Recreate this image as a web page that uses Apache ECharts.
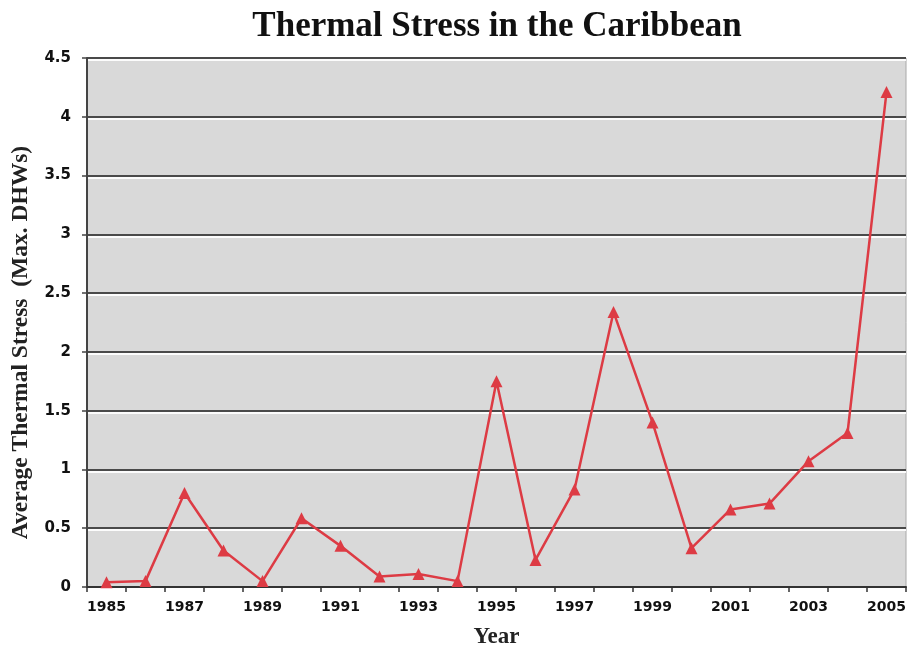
<!DOCTYPE html>
<html>
<head>
<meta charset="utf-8">
<script src="https://cdn.jsdelivr.net/npm/echarts@6/dist/echarts.min.js"></script>
<style>html,body{margin:0;padding:0;background:#fff}#c{width:909px;height:650px}</style>
</head>
<body>
<div id="c"></div>
<script>
const years = ['1985','1986','1987','1988','1989','1990','1991','1992','1993','1994','1995','1996','1997','1998','1999','2000','2001','2002','2003','2004','2005'];
const thermalStress = [0.04,0.05,0.80,0.31,0.05,0.585,0.35,0.09,0.11,0.05,1.75,0.23,0.83,2.34,1.40,0.33,0.66,0.71,1.07,1.31,4.21];
const titleText = 'Thermal Stress in the Caribbean';
const yName = 'Average Thermal Stress  (Max. DHWs)';
const xName = 'Year';

const chart = echarts.init(document.getElementById('c'), null, {renderer:'canvas'});
chart.setOption({
  backgroundColor:'#fff',
  animation:false,
  title:{text:titleText,left:492,top:4,textAlign:'center',
    textStyle:{fontFamily:'Liberation Serif',fontWeight:'bold',fontSize:35,color:'#111'}},
  grid:{left:87,right:3,top:58,bottom:63,containLabel:false,outerBoundsMode:'none',show:true,backgroundColor:'#d9d9d9',borderColor:'#a8a8a8',borderWidth:1},
  xAxis:{type:'category',data:years,boundaryGap:true,
    name:xName,nameLocation:'middle',nameGap:39,
    nameTextStyle:{fontFamily:'Liberation Serif',fontWeight:'bold',fontSize:23,color:'#222'},
    axisLine:{lineStyle:{color:'#333',width:2}},
    axisTick:{show:true,interval:0,length:5,lineStyle:{color:'#333',width:1.5}},
    axisLabel:{interval:1,margin:13,fontFamily:'DejaVu Sans',fontWeight:'bold',fontSize:14,color:'#111'},
    splitLine:{show:false}},
  yAxis:{type:'value',min:0,max:4.5,interval:0.5,
    name:yName,nameLocation:'middle',nameGap:54,
    nameTextStyle:{fontFamily:'Liberation Serif',fontWeight:'bold',fontSize:23.5,color:'#222',padding:[0,40,0,0]},
    axisLine:{show:true,lineStyle:{color:'#444',width:2}},
    axisTick:{show:true,length:5,lineStyle:{color:'#444',width:1.5}},
    axisLabel:{margin:16,fontFamily:'DejaVu Sans',fontWeight:'bold',fontSize:15,color:'#111'},
    splitLine:{show:true,lineStyle:{color:'#4a4a4a',width:2,shadowColor:'rgba(255,255,255,0.9)',shadowOffsetY:2,shadowBlur:0}}},
  series:[{type:'line',data:thermalStress,symbol:'triangle',symbolSize:12,
    lineStyle:{color:'#dd3b44',width:2.5},
    itemStyle:{color:'#dd3b44'}}]
});
</script>
</body>
</html>
